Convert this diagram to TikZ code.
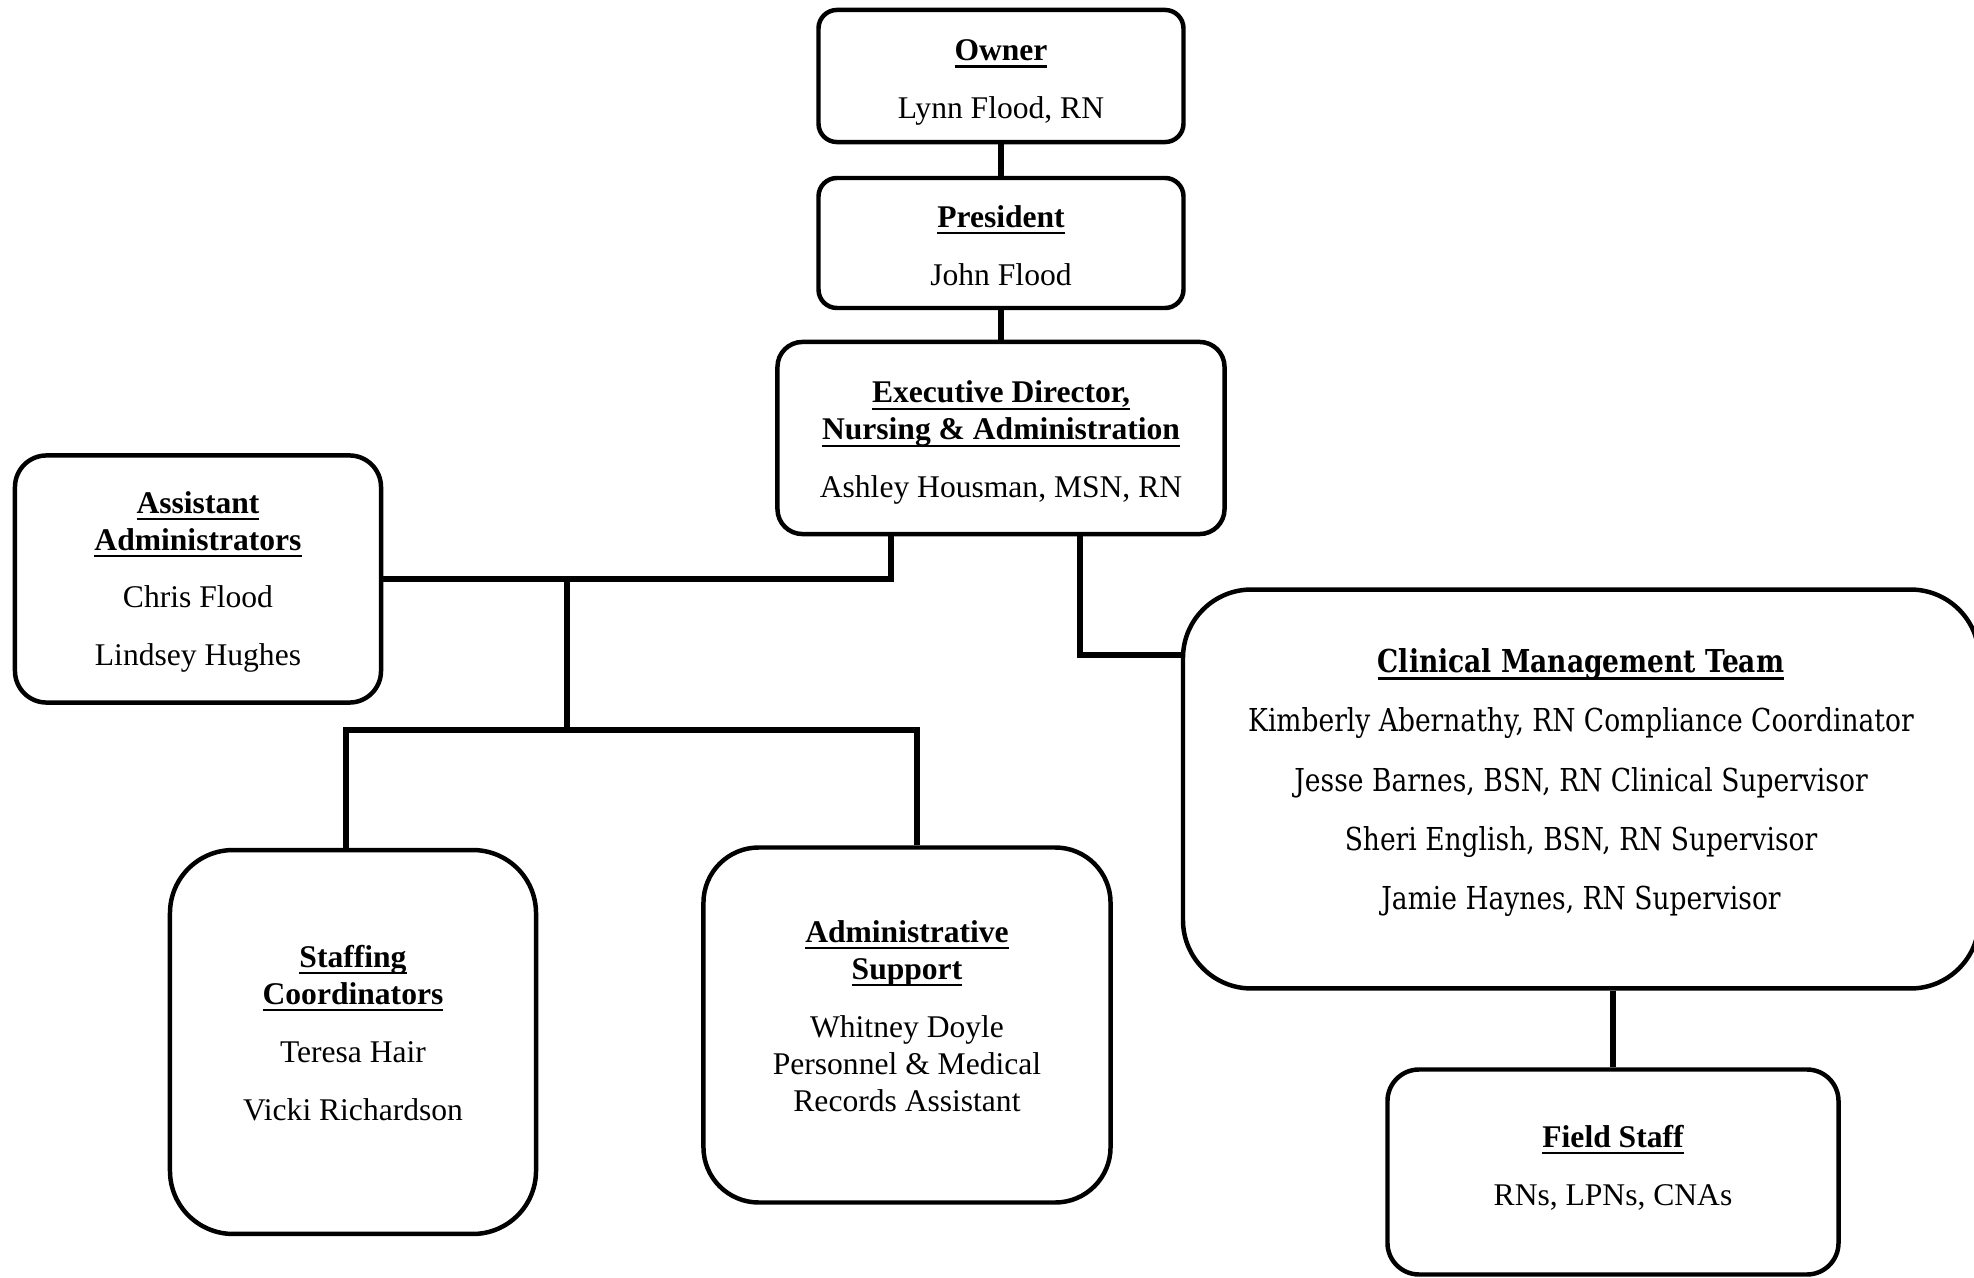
\documentclass[tikz,border=0pt]{standalone}
\usepackage{fontspec}
\setmainfont{Liberation Serif}
\newfontfamily\clinfont[FakeStretch=0.84]{DejaVu Serif}
\usetikzlibrary{positioning}
% bold heading with a thick underline
\newcommand{\hd}[1]{\textbf{\setbox0\hbox{#1}\rlap{\rule[-2.6pt]{\wd0}{0.8pt}}\box0}}
% text block, moved up or down inside its box
\newcommand{\lift}[2]{\raisebox{#1}[\height][\depth]{\begin{tabular}{@{}c@{}}#2\end{tabular}}}

\begin{document}
\begin{tikzpicture}[x=0.38pt,y=-0.38pt,
    box/.style={draw,line width=1.7pt,align=center,inner sep=0pt,
      font=\fontsize{12}{14}\selectfont},
    link/.style={line width=2.3pt}]
  \useasboundingbox (0,0) rectangle (1974,1278);
  \path
  (1001,76) node[box,rounded corners=7pt,minimum width=138.7pt,minimum height=50.2pt](owner)
    {\lift{-2.4pt}{\hd{Owner}\\[8pt] Lynn Flood, RN}}
  (1001,243) node[box,rounded corners=7pt,minimum width=138.7pt,minimum height=49.4pt](pres)
    {\lift{-2.3pt}{\hd{President}\\[8pt] John Flood}}
  (1001,438) node[box,rounded corners=9.5pt,minimum width=169.9pt,minimum height=73pt](exec)
    {\lift{-1.9pt}{\hd{Executive Director,}\\ \hd{Nursing \& Administration}\\[8pt] Ashley Housman, MSN, RN}}
  (198,579) node[box,rounded corners=12pt,minimum width=139.1pt,minimum height=93.9pt](asst)
    {\lift{-1.2pt}{\hd{Assistant}\\ \hd{Administrators}\\[8pt] Chris Flood\\[8pt] Lindsey Hughes}}
  (353,1042) node[box,rounded corners=24pt,minimum width=139.1pt,minimum height=145.9pt](staff)
    {\lift{2.1pt}{\hd{Staffing}\\ \hd{Coordinators}\\[8pt] Teresa Hair\\[8pt] Vicki Richardson}}
  (907,1025) node[box,rounded corners=21pt,minimum width=154.7pt,minimum height=134.9pt](admin)
    {\lift{2.1pt}{\hd{Administrative}\\ \hd{Support}\\[8pt] Whitney Doyle\\ Personnel \& Medical\\ Records Assistant}}
  (1581,789) node[box,rounded corners=26pt,minimum width=302.5pt,minimum height=151.6pt](clin)
    {\clinfont\lift{2pt}{\hd{Clinical Management Team}\\[8.5pt]
     Kimberly Abernathy, RN Compliance Coordinator\\[8.5pt]
     Jesse Barnes, BSN, RN Clinical Supervisor\\[8.5pt]
     Sheri English, BSN, RN Supervisor\\[8.5pt]
     Jamie Haynes, RN Supervisor}}
  (1613,1172) node[box,rounded corners=12pt,minimum width=171.4pt,minimum height=77.9pt](field)
    {\lift{1.2pt}{\hd{Field Staff}\\[8pt] RNs, LPNs, CNAs}}
  ;

  \coordinate (eL) at (891,579);
  \coordinate (eR) at (1080,655);
  \coordinate (split) at (567,730);
  \coordinate (dropS) at (346,730);
  \coordinate (dropA) at (917,730);

  \draw[link] (owner) -- (pres);
  \draw[link] (pres) -- (exec);
  \draw[link] (exec.south -| eL) |- (asst.east);
  \draw[link] (split |- asst.east) -- (split);
  \draw[link] (dropS |- staff.north) -- (dropS) -- (dropA) -- (dropA |- admin.north);
  \draw[link] (exec.south -| eR) |- (clin.west |- eR);
  \draw[link] (clin.south -| field.north) -- (field.north);
\end{tikzpicture}
\end{document}
